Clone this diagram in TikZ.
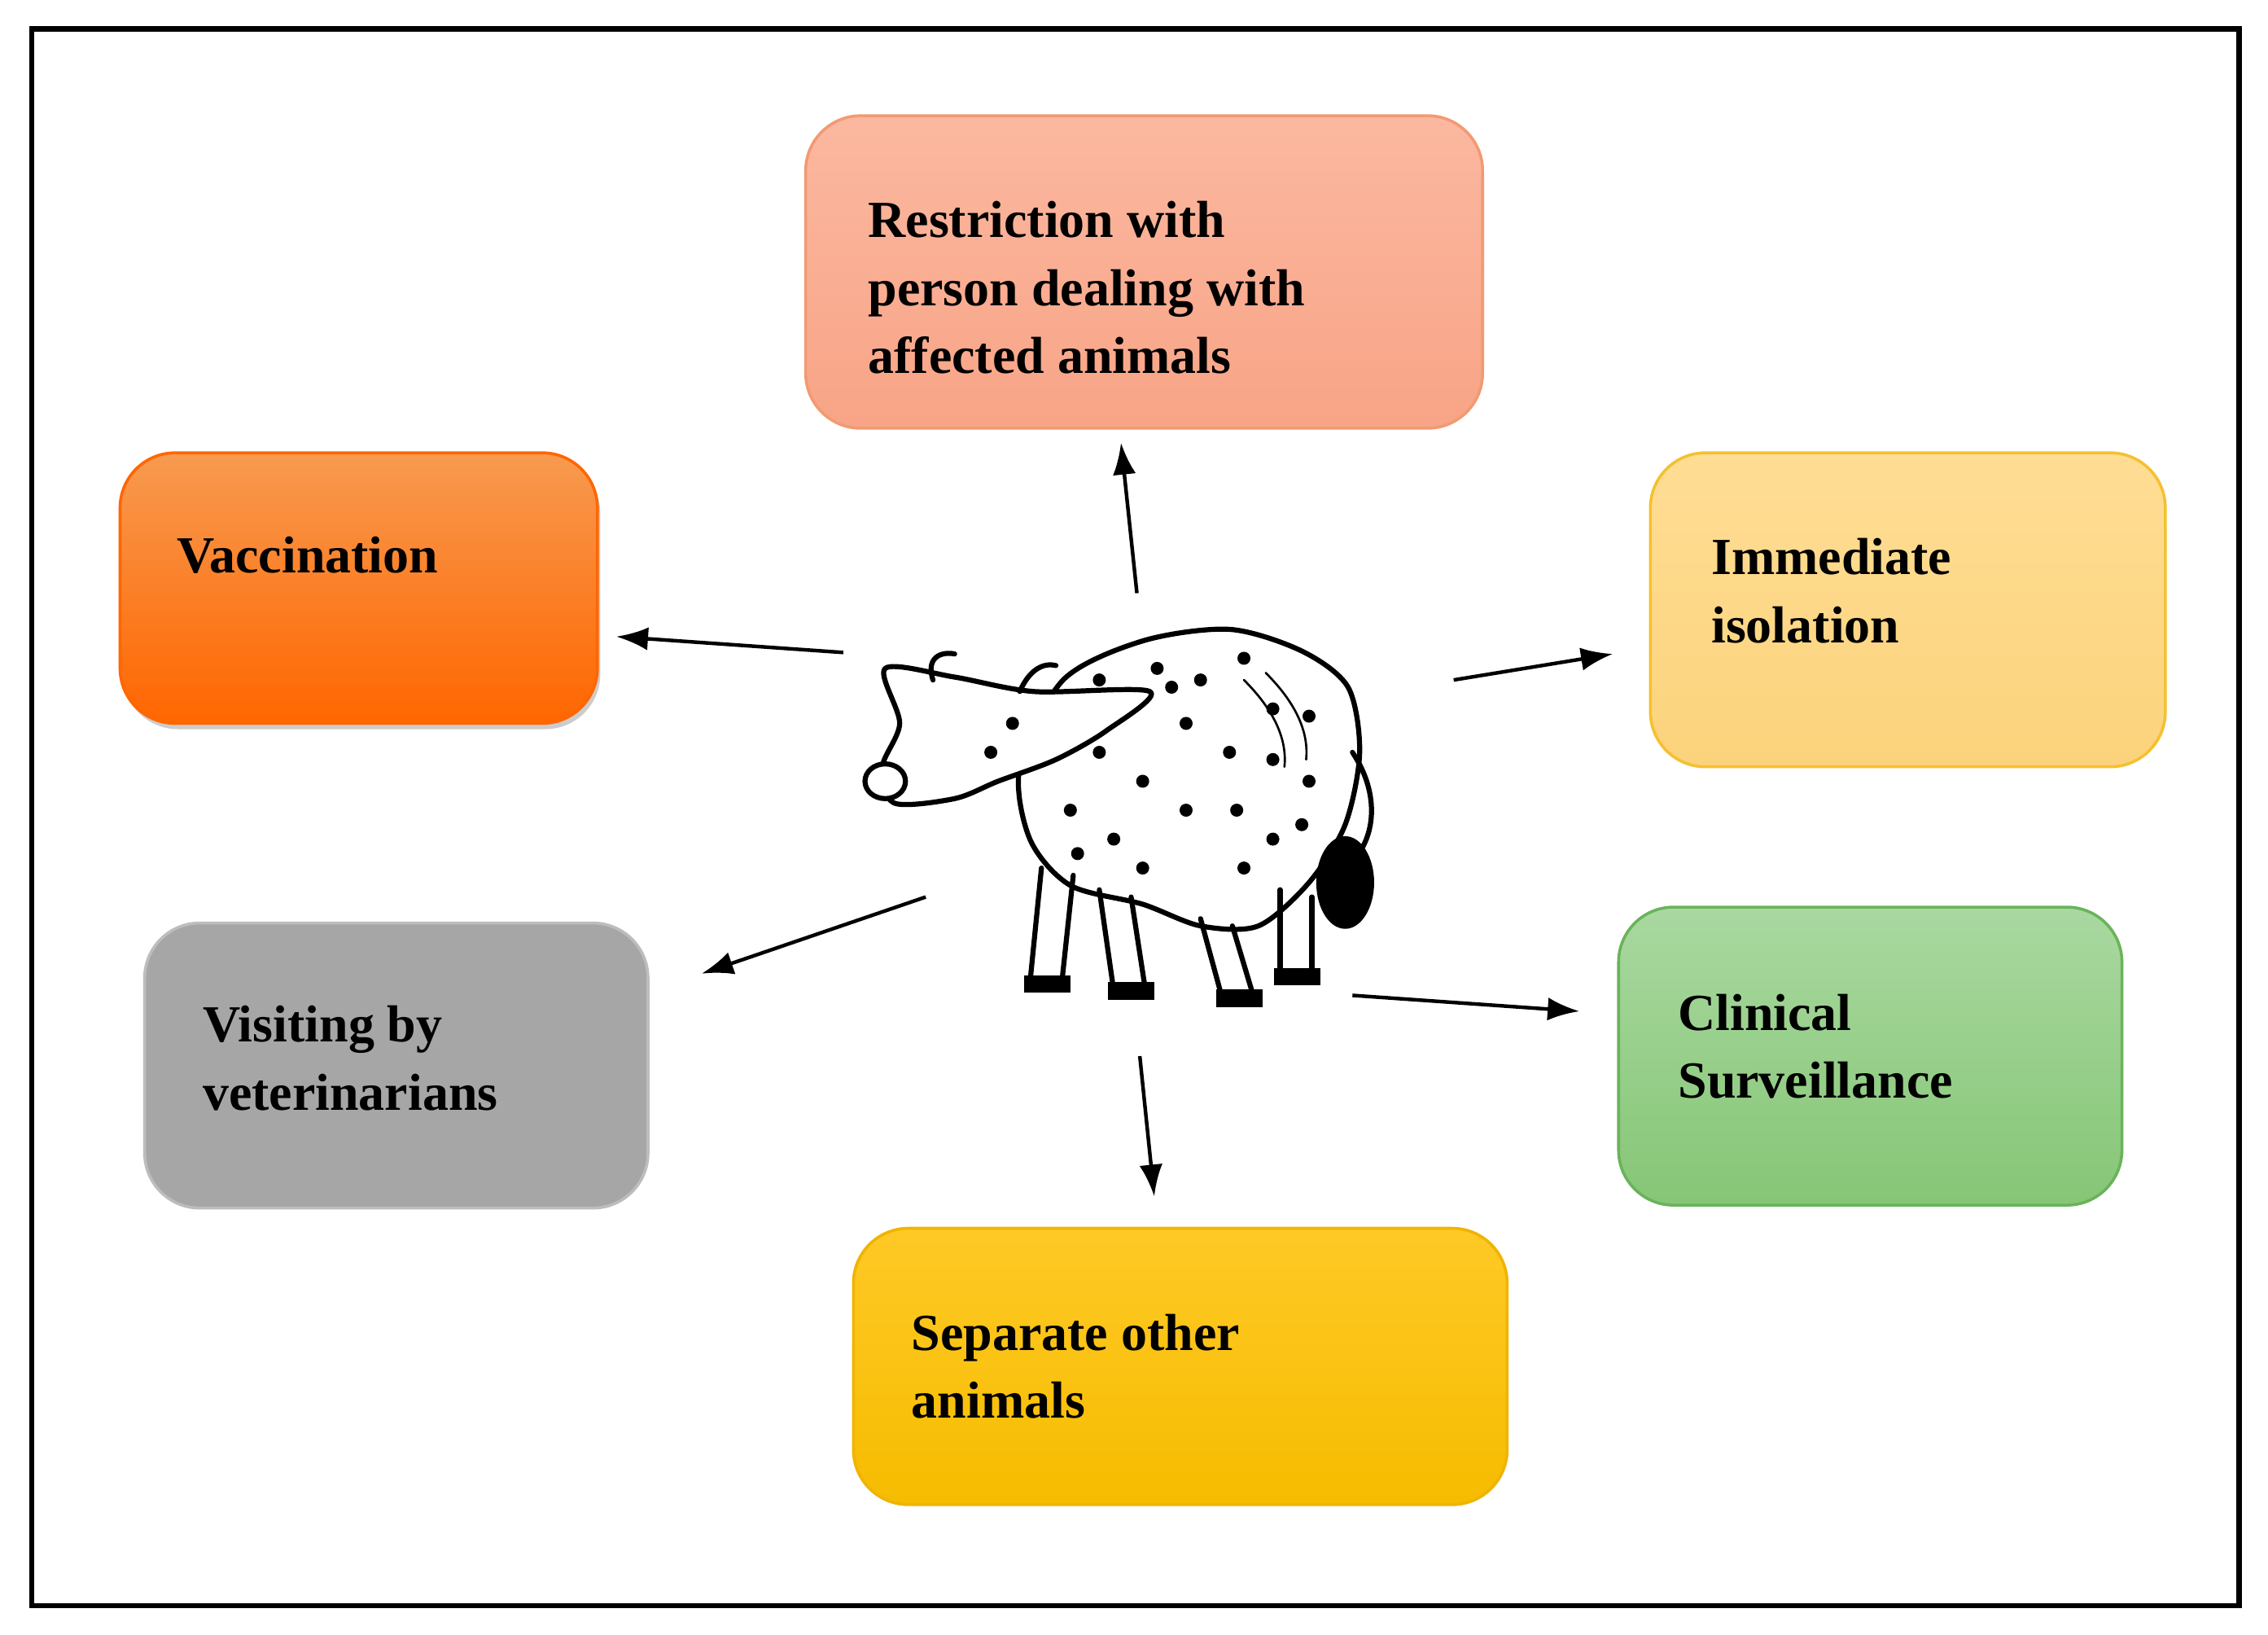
\documentclass[tikz,border=0pt]{standalone}
\usepackage{fontspec}
\setmainfont{Liberation Serif}
\usetikzlibrary{shadows,arrows.meta}
\definecolor{salmonT}{HTML}{FBB8A0}\definecolor{salmonB}{HTML}{F8A486}\definecolor{salmonD}{HTML}{F29A72}
\definecolor{orT}{HTML}{F79A50}\definecolor{orB}{HTML}{FF6600}
\definecolor{yeT}{HTML}{FEDD94}\definecolor{yeB}{HTML}{FCD37C}\definecolor{yeD}{HTML}{F5C030}
\definecolor{grT}{HTML}{A9D8A0}\definecolor{grB}{HTML}{86C676}\definecolor{grD}{HTML}{6AB35B}
\definecolor{gyF}{HTML}{A6A6A6}\definecolor{gyD}{HTML}{BDBDBD}
\definecolor{goT}{HTML}{FFC926}\definecolor{goB}{HTML}{F6BC00}\definecolor{goD}{HTML}{F0B400}
\begin{document}
\begin{tikzpicture}[x=1pt,y=-1pt,
 box/.style={rounded corners=38pt,line width=2pt},
 lab/.style={anchor=north west,align=left,font=\fontsize{36}{47}\selectfont\bfseries,inner sep=0pt},
 arr/.style={-{Latex[length=22pt,width=16pt]},line width=2.5pt},
 cow/.style={line width=3.5pt,line join=round,line cap=round}]
\useasboundingbox (0,0) rectangle (1568,1130);
\fill[white] (0,0) rectangle (1568,1130);
\draw[line width=3.5pt] (22,20) rectangle (1548,1110);
% boxes
\draw[box,draw=salmonD,top color=salmonT,bottom color=salmonB] (557,80) rectangle (1025,296);
\node[coordinate] (rT) at (775,296) {};
\draw[box,draw=orB,top color=orT,bottom color=orB,drop shadow={shadow xshift=2pt,shadow yshift=-4pt,opacity=0.4}] (83,313) rectangle (413,500);
\draw[box,draw=yeD,top color=yeT,bottom color=yeB] (1141,313) rectangle (1497,530);
\draw[box,draw=gyD,fill=gyF] (100,638) rectangle (448,835);
\draw[box,draw=grD,top color=grT,bottom color=grB] (1119,627) rectangle (1467,833);
\draw[box,draw=goD,top color=goT,bottom color=goB] (590,849) rectangle (1042,1040);
% labels
\node[lab] (t1) at (600,139) {Restriction with\\person dealing with\\affected animals};
\node[lab] (t2) at (122,371) {Vaccination};
\node[lab] (t3) at (1183,372) {Immediate\\isolation};
\node[lab] (t4) at (140,695) {Visiting by\\veterinarians};
\node[lab] (t5) at (1160,687) {Clinical\\Surveillance};
\node[lab] (t6) at (630,908) {Separate other\\animals};
% cow
\begin{scope}[cow]
\fill[black] (930,610) ellipse (20pt and 32pt);
\draw (935,520) .. controls (955,550) and (950,580) .. (935,595);
\draw plot[smooth cycle] coordinates {(735,470)(790,443)(850,435)(900,450)(932,475)(940,520)(930,570)(905,610)(870,640)(830,640)(790,625)(740,612)(712,580)(705,530)};
\draw[fill=white] plot[smooth cycle] coordinates {(612,462)(660,468)(715,478)(795,478)(765,505)(730,525)(690,540)(660,552)(618,555)(610,530)(622,500)};
\draw (645,470) .. controls (640,455) and (650,450) .. (660,452);
\draw (705,478) .. controls (712,462) and (722,458) .. (730,460);
\draw[fill=white] (612,540) ellipse (14pt and 12pt);
\foreach \a/\b/\c/\d in {720/600/712/680, 760/615/770/685, 830/635/845/690, 885/615/885/675}{
 \draw (\a,\b) -- (\c,\d);
 \draw (\a+22,\b+5) -- (\c+22,\d);
 \fill[black] (\c-4,\d-6) rectangle (\c+28,\d+6);}
\foreach \p in {(760,470),(800,462),(830,470),(860,455),(880,490),(905,495),(820,500),(850,520),(880,525),(905,540),(760,520),(790,540),(740,560),(770,580),(820,560),(855,560),(880,580),(900,570),(745,590),(790,600),(860,600),(700,500),(685,520),(810,475)}
 \fill[black] \p circle (4.5pt);
\draw[line width=1.5pt] (860,470) .. controls (880,490) and (890,510) .. (888,530);
\draw[line width=1.5pt] (875,465) .. controls (895,485) and (905,505) .. (903,525);
\end{scope}
% arrow coordinates
\coordinate (a1) at (786,410); \coordinate (b1) at (775,306);
\coordinate (a2) at (583,451); \coordinate (b2) at (426,440);
\coordinate (a3) at (1005,470); \coordinate (b3) at (1115,452);
\coordinate (a4) at (640,620); \coordinate (b4) at (485,673);
\coordinate (a5) at (935,688); \coordinate (b5) at (1092,699);
\coordinate (a6) at (788,730); \coordinate (b6) at (798,827);
\foreach \i in {1,...,6} \draw[arr] (a\i) -- (b\i);
\end{tikzpicture}
\end{document}
